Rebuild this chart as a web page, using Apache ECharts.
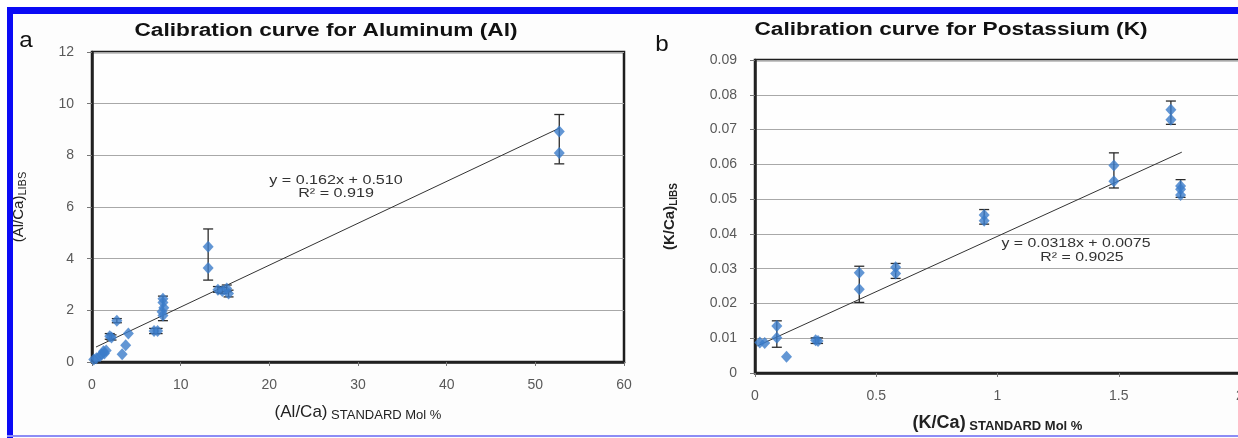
<!DOCTYPE html>
<html>
<head>
<meta charset="utf-8">
<script src="https://cdn.jsdelivr.net/npm/echarts@6.0.0/dist/echarts.min.js"></script>
<style>
  html, body { margin: 0; padding: 0; background: #fff; }
  #main { width: 1238px; height: 438px; }
</style>
</head>
<body>
<div id="main"></div>
<script>
// panel a: aluminum
const alX = [0.2, 0.5, 0.9, 1.1, 1.3, 1.4, 1.6, 2.0, 2.2, 2.8, 3.4, 3.8, 4.1, 7.0, 7.4, 7.9, 8.0, 8.0, 8.1, 8.0, 13.1, 13.1, 14.2, 14.7, 15.2, 15.4, 52.7, 52.7]
const alY = [0.1, 0.15, 0.22, 0.3, 0.42, 0.33, 0.45, 1.0, 0.95, 1.6, 0.3, 0.65, 1.1, 1.2, 1.2, 1.95, 2.45, 2.3, 2.1, 1.8, 4.46, 3.64, 2.8, 2.75, 2.85, 2.65, 8.92, 8.09]
const alErrX = [2.0, 2.2, 2.8, 7.0, 7.4, 8.0, 13.1, 14.2, 14.7, 15.2, 15.4, 52.7]
const alErrLow = [0.88, 0.85, 1.52, 1.1, 1.1, 1.6, 3.17, 2.7, 2.65, 2.72, 2.52, 7.67]
const alErrHigh = [1.1, 1.05, 1.68, 1.3, 1.3, 2.55, 5.15, 2.92, 2.88, 2.98, 2.78, 9.58]
const alTrendX = [0.45, 52.7]
const alTrendY = [0.58, 9.05]
const alTicksX = [0, 60, 10]
const alTicksY = [0, 12, 2]

// panel b: potassium
const kX = [0.02, 0.04, 0.09, 0.09, 0.13, 0.25, 0.26, 0.43, 0.43, 0.58, 0.58, 0.945, 0.945, 1.48, 1.48, 1.715, 1.715, 1.755, 1.755, 1.755]
const kY = [0.0088, 0.0086, 0.0135, 0.0101, 0.0047, 0.0094, 0.0092, 0.0288, 0.0241, 0.0304, 0.0286, 0.0454, 0.0438, 0.0597, 0.0551, 0.0757, 0.0728, 0.0538, 0.0528, 0.0512]
const kErrX = [0.09, 0.25, 0.26, 0.43, 0.58, 0.945, 1.48, 1.715, 1.755]
const kErrLow = [0.0074, 0.0085, 0.0085, 0.0203, 0.0272, 0.0428, 0.0532, 0.0715, 0.0505]
const kErrHigh = [0.015, 0.0101, 0.0101, 0.0307, 0.0315, 0.047, 0.0633, 0.0782, 0.0556]
const kTrendX = [0.01, 1.76]
const kTrendY = [0.0078, 0.0635]
const kTicksX = [0, 2, 0.5]
const kTicksY = [0, 0.09, 0.01]

const FONT = '"Liberation Sans", Arial, sans-serif'
const BLUE = '#3b7cc9'

function zip(a, b) {
  return a.map((v, i) => [v, b[i]])
}
function zip3(a, b, c) {
  return a.map((v, i) => [v, b[i], c[i]])
}

function errorBar(params, api) {
  const x = api.value(0)
  const lo = api.coord([x, api.value(1)])
  const hi = api.coord([x, api.value(2)])
  const w = 5
  const style = { stroke: '#2b2b2b', lineWidth: 1.3 }
  return {
    type: 'group',
    children: [
      { type: 'line', shape: { x1: hi[0], y1: hi[1], x2: lo[0], y2: lo[1] }, style },
      { type: 'line', shape: { x1: hi[0] - w, y1: hi[1], x2: hi[0] + w, y2: hi[1] }, style },
      { type: 'line', shape: { x1: lo[0] - w, y1: lo[1], x2: lo[0] + w, y2: lo[1] }, style }
    ]
  }
}

function xAxisOf(idx, ticks, name, rich) {
  return {
    gridIndex: idx,
    type: 'value',
    min: ticks[0], max: ticks[1], interval: ticks[2],
    splitLine: { show: false },
    axisLine: { onZero: false, lineStyle: { color: '#222', width: 2.5 } },
    axisTick: { show: true, length: 4, lineStyle: { color: '#777' } },
    axisLabel: { color: '#595959', fontSize: 14, fontFamily: FONT, margin: 16 },
    name: name,
    nameLocation: 'middle',
    nameGap: 40,
    nameTextStyle: { rich: rich }
  }
}

function yAxisOf(idx, ticks, name, gap, rich) {
  return {
    gridIndex: idx,
    type: 'value',
    min: ticks[0], max: ticks[1], interval: ticks[2],
    splitLine: { show: true, lineStyle: { color: '#a8a8a8', width: 1 } },
    axisLine: { onZero: false, lineStyle: { color: '#222', width: 2.5 } },
    axisTick: { show: true, length: 5, lineStyle: { color: '#777' } },
    axisLabel: { color: '#595959', fontSize: 14, fontFamily: FONT, margin: 18 },
    name: name,
    nameLocation: 'middle',
    nameRotate: 90,
    nameGap: gap,
    nameTextStyle: { rich: rich }
  }
}

function label(x, y, text, size, weight, scale, color) {
  return {
    type: 'text', x: x, y: y, scaleX: scale, z: 100,
    style: {
      text: text, fill: color || '#111',
      font: weight + ' ' + size + 'px ' + FONT,
      align: 'center', verticalAlign: 'middle',
      textAlign: 'center', textVerticalAlign: 'middle'
    }
  }
}

const chart = echarts.init(document.getElementById('main'))

chart.setOption({
  backgroundColor: '#fdfdfd',
  animation: false,
  grid: [
    { left: 92, top: 52, width: 532, height: 310, outerBoundsMode: 'none', show: true, borderColor: '#1e1e1e', borderWidth: 2.5, backgroundColor: '#fefefe' },
    { left: 755, top: 60, width: 485, height: 313, outerBoundsMode: 'none', show: true, borderColor: '#1e1e1e', borderWidth: 2.5, backgroundColor: '#fefefe' }
  ],
  xAxis: [
    xAxisOf(0, alTicksX, '{m|(Al/Ca)}{s| STANDARD Mol %}', {
      m: { fontSize: 17, color: '#222', fontFamily: FONT, lineHeight: 20 },
      s: { fontSize: 13, color: '#222', fontFamily: FONT, lineHeight: 20, verticalAlign: 'bottom', padding: [6, 0, 0, 0] }
    }),
    xAxisOf(1, kTicksX, '{m|(K/Ca)}{s| STANDARD Mol %}', {
      m: { fontSize: 18, fontWeight: 'bold', color: '#222', fontFamily: FONT, lineHeight: 20 },
      s: { fontSize: 13, fontWeight: 'bold', color: '#222', fontFamily: FONT, lineHeight: 20, verticalAlign: 'bottom', padding: [7, 0, 0, 0] }
    })
  ],
  yAxis: [
    yAxisOf(0, alTicksY, '{m|(Al/Ca)}{s|LIBS}', 64, {
      m: { fontSize: 15, color: '#222', fontFamily: FONT, lineHeight: 18 },
      s: { fontSize: 11, color: '#222', fontFamily: FONT, lineHeight: 18, verticalAlign: 'bottom', padding: [5, 0, 0, 0] }
    }),
    yAxisOf(1, kTicksY, '{m|(K/Ca)}{s|LIBS}', 76, {
      m: { fontSize: 15, fontWeight: 'bold', color: '#222', fontFamily: FONT, lineHeight: 18 },
      s: { fontSize: 10, fontWeight: 'bold', color: '#222', fontFamily: FONT, lineHeight: 18, verticalAlign: 'bottom', padding: [5, 0, 0, 0] }
    })
  ],
  series: [
    {
      type: 'line', xAxisIndex: 0, yAxisIndex: 0, data: zip(alTrendX, alTrendY),
      symbol: 'none', lineStyle: { color: '#333', width: 1 }, z: 2
    },
    {
      type: 'custom', xAxisIndex: 0, yAxisIndex: 0, data: zip3(alErrX, alErrLow, alErrHigh),
      renderItem: errorBar, encode: { x: 0, y: [1, 2] }, z: 3
    },
    {
      type: 'scatter', xAxisIndex: 0, yAxisIndex: 0, data: zip(alX, alY),
      symbol: 'diamond', symbolSize: [11, 12], itemStyle: { color: BLUE }, z: 4
    },
    {
      type: 'line', xAxisIndex: 1, yAxisIndex: 1, data: zip(kTrendX, kTrendY),
      symbol: 'none', lineStyle: { color: '#333', width: 1 }, z: 2
    },
    {
      type: 'custom', xAxisIndex: 1, yAxisIndex: 1, data: zip3(kErrX, kErrLow, kErrHigh),
      renderItem: errorBar, encode: { x: 0, y: [1, 2] }, z: 3
    },
    {
      type: 'scatter', xAxisIndex: 1, yAxisIndex: 1, data: zip(kX, kY),
      symbol: 'diamond', symbolSize: [11, 12], itemStyle: { color: BLUE }, z: 4
    }
  ],
  graphic: [
    label(326, 31, 'Calibration curve for Aluminum (Al)', 18, 'bold', 1.26),
    label(951, 30, 'Calibration curve for Postassium (K)', 18, 'bold', 1.26),
    label(26, 41, 'a', 22, 'normal', 1.1),
    label(662, 45, 'b', 22, 'normal', 1.1),
    label(336, 180, 'y = 0.162x + 0.510', 13, 'normal', 1.24, '#333'),
    label(336, 193, 'R\u00b2 = 0.919', 13, 'normal', 1.24, '#333'),
    label(1076, 243, 'y = 0.0318x + 0.0075', 13, 'normal', 1.22, '#333'),
    label(1082, 257, 'R\u00b2 = 0.9025', 13, 'normal', 1.22, '#333'),
    // blue frame of the figure
    { type: 'rect', z: 200, shape: { x: 7, y: 7, width: 1231, height: 7 }, style: { fill: '#0a0af5' } },
    { type: 'rect', z: 200, shape: { x: 7, y: 7, width: 6, height: 431 }, style: { fill: '#0a0af5' } },
    { type: 'rect', z: 200, shape: { x: 7, y: 435, width: 1231, height: 2 }, style: { fill: '#8c8cf5' } },
    { type: 'rect', z: 200, shape: { x: 0, y: 0, width: 1238, height: 7 }, style: { fill: '#ffffff' } },
    { type: 'rect', z: 200, shape: { x: 0, y: 0, width: 7, height: 438 }, style: { fill: '#ffffff' } }
  ]
})
</script>
</body>
</html>
